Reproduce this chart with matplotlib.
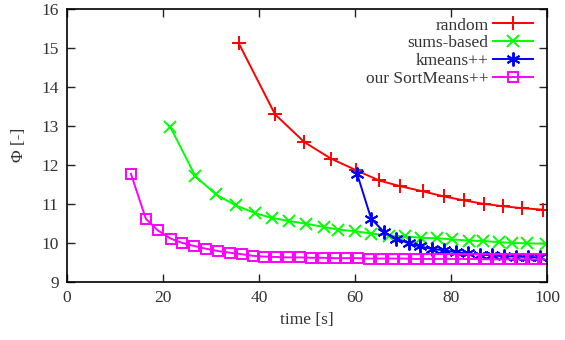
import matplotlib
matplotlib.use("Agg")
import matplotlib.pyplot as plt

plt.rcParams['font.family'] = ['Liberation Serif', 'DejaVu Serif']

random_t = [35.7, 43.3, 49.4, 54.9, 60.2, 64.9, 69.4, 74.1, 78.4, 82.6, 86.7, 90.7, 94.7, 99.1]
random_v = [15.12, 13.29, 12.58, 12.16, 11.86, 11.60, 11.45, 11.32, 11.19, 11.09, 11.00, 10.94, 10.89, 10.85]

sums_t = [21.5, 26.7, 31.0, 35.1, 39.2, 42.6, 46.3, 49.8, 53.4, 56.5, 59.9, 63.3, 67.0, 70.4,
          73.7, 77.0, 80.1, 83.6, 86.6, 89.9, 92.6, 95.8, 99.6]
sums_v = [12.97, 11.71, 11.24, 10.96, 10.76, 10.64, 10.56, 10.49, 10.41, 10.34, 10.30, 10.24, 10.19, 10.17,
          10.13, 10.12, 10.09, 10.06, 10.05, 10.02, 10.00, 9.99, 9.98]

kpp_t = [60.4, 63.3, 65.9, 68.5, 71.1, 73.4, 75.9, 78.5, 81.0, 83.5, 86.0, 88.5, 91.0, 93.5, 96.0, 98.5]
kpp_v = [11.76, 10.62, 10.29, 10.11, 9.99, 9.91, 9.85, 9.81, 9.76, 9.73, 9.70, 9.68, 9.66, 9.65, 9.64, 9.63]

sort_t = [13.3, 16.4, 18.9, 21.6, 24.0, 26.5, 29.0, 31.5, 33.9, 36.4, 38.7, 41.1,
          43.5, 45.9, 48.4, 50.8, 53.2, 55.7, 58.1, 60.5, 62.9, 65.4, 67.8, 70.2,
          72.7, 75.1, 77.5, 79.9, 82.4, 84.8, 87.2, 89.7, 92.1, 94.5, 96.9, 99.4]
sort_v = [11.77, 10.62, 10.32, 10.11, 10.00, 9.92, 9.85, 9.79, 9.75, 9.71, 9.67, 9.65,
          9.64, 9.63, 9.63, 9.62, 9.62, 9.61, 9.61, 9.61, 9.60, 9.60, 9.60, 9.60,
          9.59, 9.59, 9.59, 9.59, 9.59, 9.59, 9.58, 9.58, 9.58, 9.58, 9.58, 9.58]

labels = ["random", "sums-based", "kmeans++", "our SortMeans++"]
colors = ["#ff0000", "#00ff00", "#0000ff", "#ff00ff"]

fig = plt.figure(figsize=(5.65, 3.4), dpi=100)
ax = fig.add_axes([0.1186, 0.1706, 0.8504, 0.8044])

lw = 1.4
ax.plot(random_t, random_v, color=colors[0], marker='+', ms=10, mew=1.4, lw=lw, label=labels[0])
ax.plot(sums_t, sums_v, color=colors[1], marker='x', ms=8, mew=1.4, lw=lw, label=labels[1])
ax.plot(kpp_t, kpp_v, color=colors[2], marker=(6, 2, 0), ms=10, mew=1.4, lw=lw, label=labels[2])
ax.plot(sort_t, sort_v, color=colors[3], marker='s', ms=7.5, mew=1.4, mfc='none', lw=lw, label=labels[3])

ax.set_xlim(0, 100)
ax.set_ylim(9, 16)
ax.set_xticks([0, 20, 40, 60, 80, 100])
ax.set_yticks([9, 10, 11, 12, 13, 14, 15, 16])
ax.tick_params(direction='in', top=True, right=True, length=6, width=1, labelsize=12.5, pad=6,
               colors='#222222', labelcolor='#333333')
for s in ax.spines.values():
    s.set_linewidth(1.2)
ax.set_xlabel("time [s]", fontsize=12.5, labelpad=4, color='#333333')
ax.set_ylabel("Φ [-]", fontsize=12.5, labelpad=10, color='#333333')

leg = ax.legend(loc='upper right', bbox_to_anchor=(0.995, 1.012), frameon=False, markerfirst=False,
                fontsize=12.5, handlelength=2.3, labelspacing=0.1, borderaxespad=0.3, handletextpad=0.25)
for t in leg.get_texts():
    t.set_color('#333333')

fig.savefig("out.png", dpi=100)
